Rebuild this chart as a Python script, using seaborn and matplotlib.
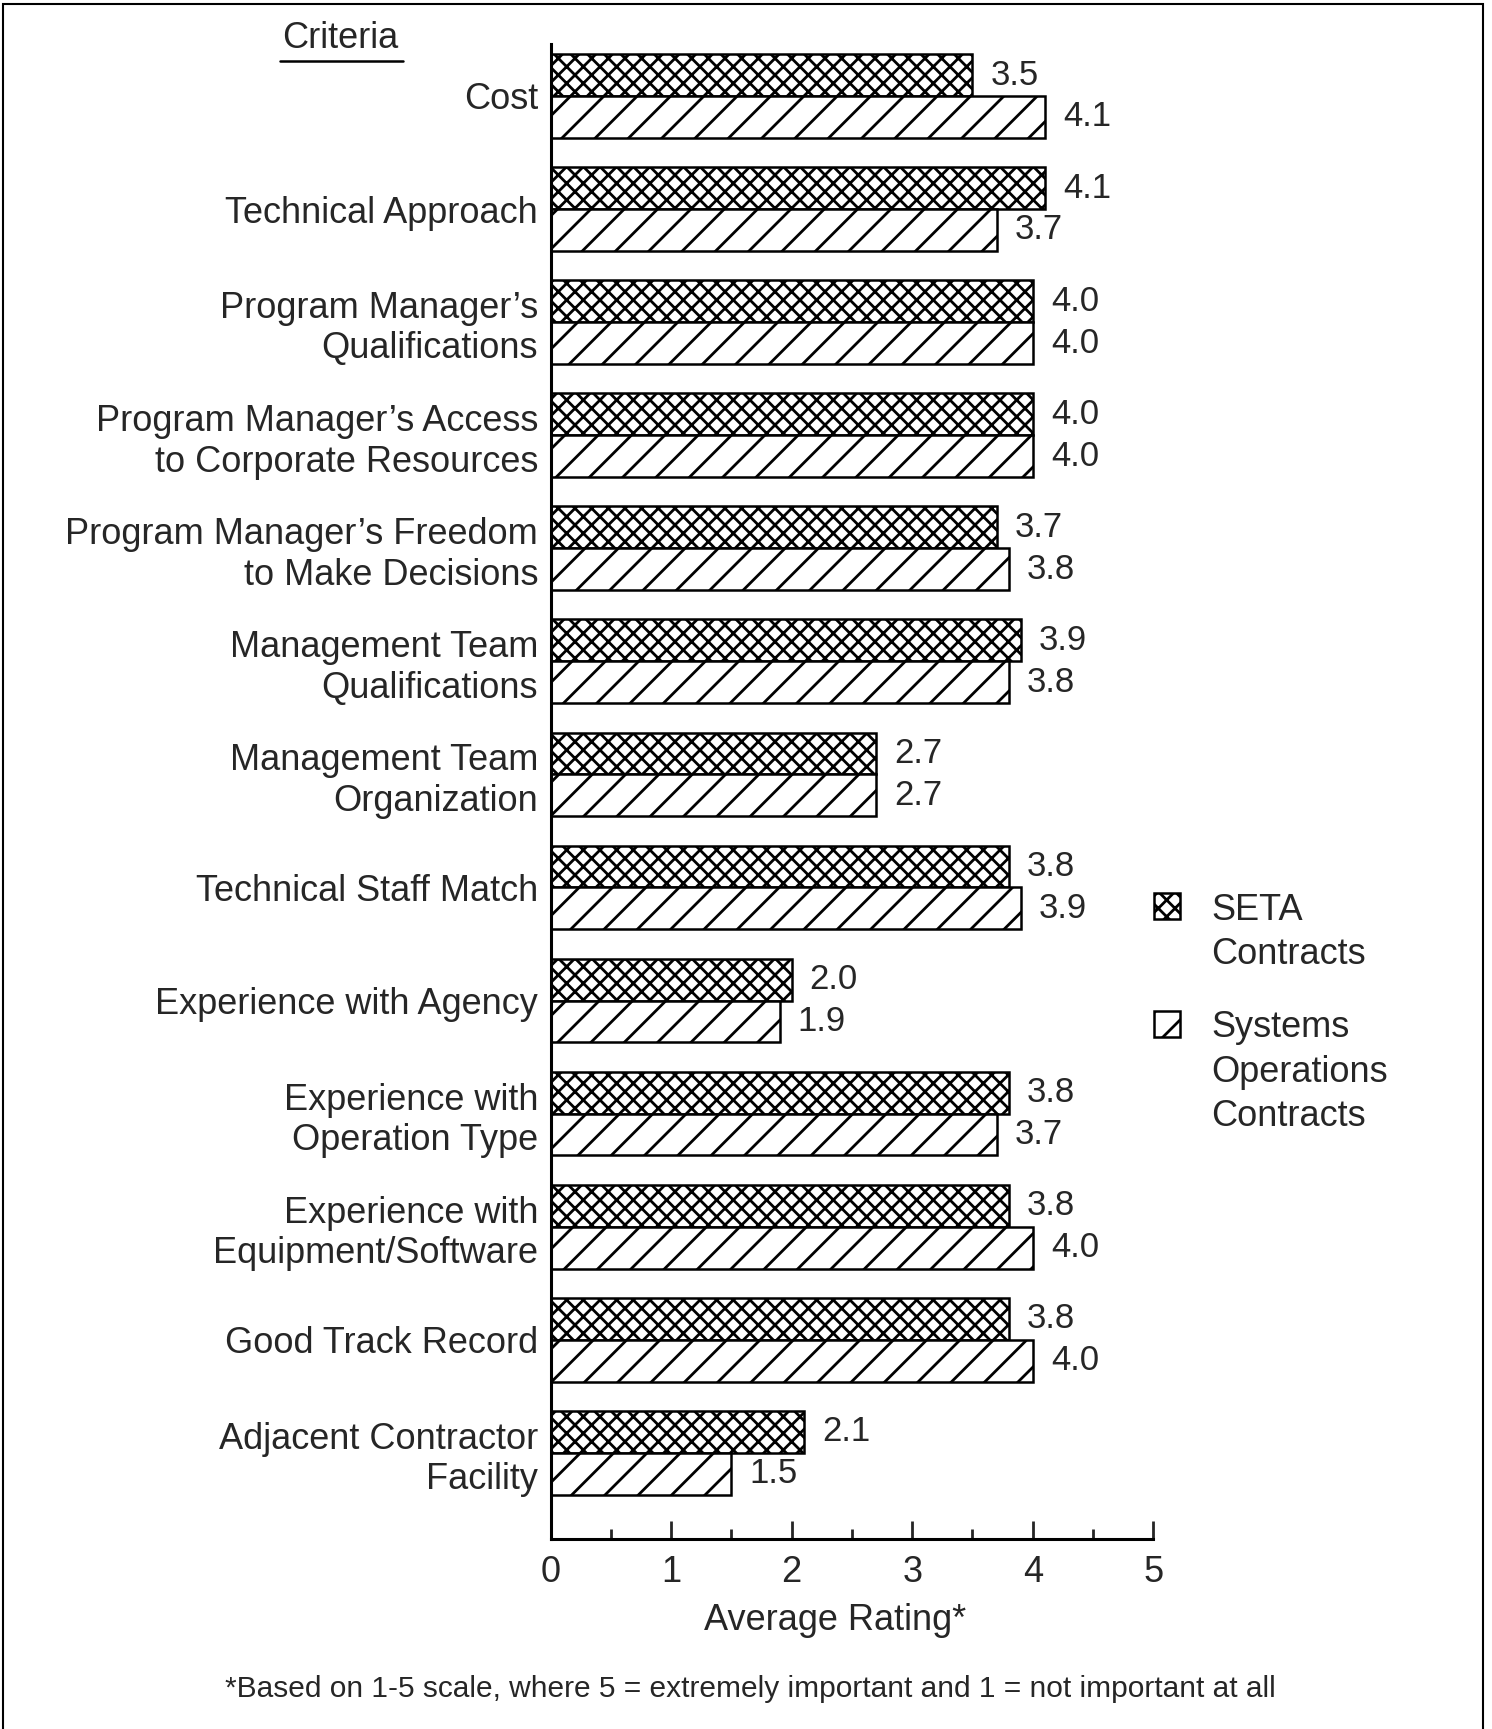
import pandas as pd
import matplotlib.pyplot as plt
import matplotlib.patches as mpatches
from matplotlib.lines import Line2D
from matplotlib.ticker import MultipleLocator
import seaborn as sns

# Chart data
criteria = [
    "Cost",
    "Technical Approach",
    "Program Manager\u2019s\nQualifications",
    "Program Manager\u2019s Access\nto Corporate Resources",
    "Program Manager\u2019s Freedom\nto Make Decisions",
    "Management Team\nQualifications",
    "Management Team\nOrganization",
    "Technical Staff Match",
    "Experience with Agency",
    "Experience with\nOperation Type",
    "Experience with\nEquipment/Software",
    "Good Track Record",
    "Adjacent Contractor\nFacility",
]
seta = [3.5, 4.1, 4.0, 4.0, 3.7, 3.9, 2.7, 3.8, 2.0, 3.8, 3.8, 3.8, 2.1]
sysops = [4.1, 3.7, 4.0, 4.0, 3.8, 3.8, 2.7, 3.9, 1.9, 3.7, 4.0, 4.0, 1.5]
series = ["SETA\nContracts", "Systems\nOperations\nContracts"]
hatches = ["xx", "/"]

df = pd.DataFrame({
    "criteria": criteria * 2,
    "rating": seta + sysops,
    "contract": [series[0]] * len(seta) + [series[1]] * len(sysops),
})

sns.set_style("white")
plt.rcParams["font.family"] = ["Liberation Sans", "DejaVu Sans"]
plt.rcParams["hatch.linewidth"] = 2.0

fig = plt.figure(figsize=(14.92, 17.29), dpi=100)
ax = fig.add_axes([0.369, 0.110, 0.404, 0.8646])

sns.barplot(data=df, x="rating", y="criteria", hue="contract", orient="h",
            order=criteria, hue_order=series, width=0.74, dodge=True,
            palette=["white", "white"], edgecolor="black", linewidth=1.8,
            legend=False, ax=ax)

for cont, h in zip(ax.containers, hatches):
    for bar in cont:
        bar.set_hatch(h)
        bar.set_facecolor("white")
        bar.set_edgecolor("black")
    ax.bar_label(cont, fmt="%.1f", padding=13, fontsize=25)

ax.set_xlim(0, 5)
ax.set_ylim(12.76, -0.46)
ax.xaxis.set_major_locator(MultipleLocator(1))
ax.xaxis.set_minor_locator(MultipleLocator(0.5))
ax.tick_params(axis="x", which="major", direction="in", length=13, width=2,
               labelsize=26, pad=12, bottom=True)
ax.tick_params(axis="x", which="minor", direction="in", length=7, width=2,
               bottom=True)
ax.tick_params(axis="y", length=0, labelsize=26, pad=9)
ax.set_xlabel("Average Rating*", fontsize=26)
ax.xaxis.label.set_va("center")
ax.xaxis.set_label_coords(0.472, -0.0545)
ax.set_ylabel("")
for side in ["top", "right"]:
    ax.spines[side].set_visible(False)
for side in ["left", "bottom"]:
    ax.spines[side].set_linewidth(2.2)
    ax.spines[side].set_color("black")
ax.grid(False)

# "Criteria" heading with underline
fig.text(0.228, 0.9775, "Criteria", fontsize=26, ha="center", va="center")
fig.add_artist(Line2D([0.188, 0.270], [0.9650, 0.9650], color="black", lw=1.8))

# legend drawn by hand so the box lines up with the first text line
legend_y = [0.476, 0.408]
for lab, h, y in zip(series, hatches, legend_y):
    fig.add_artist(mpatches.Rectangle((0.7735, y - 0.0075), 0.0174, 0.015,
                                      facecolor="white", edgecolor="black",
                                      hatch=h, lw=1.8,
                                      transform=fig.transFigure))
    fig.text(0.812, y + 0.0077, lab, fontsize=26, ha="left", va="top",
             linespacing=1.35)

fig.text(0.503, 0.0232,
         "*Based on 1-5 scale, where 5 = extremely important and 1 = not important at all",
         fontsize=21.5, ha="center", va="center")

# outer frame
fig.add_artist(mpatches.Rectangle((0.002, -0.01), 0.992, 1.0077, fill=False,
                                  edgecolor="black", lw=1.5,
                                  transform=fig.transFigure))

fig.savefig("out.png", dpi=100, facecolor="white")
